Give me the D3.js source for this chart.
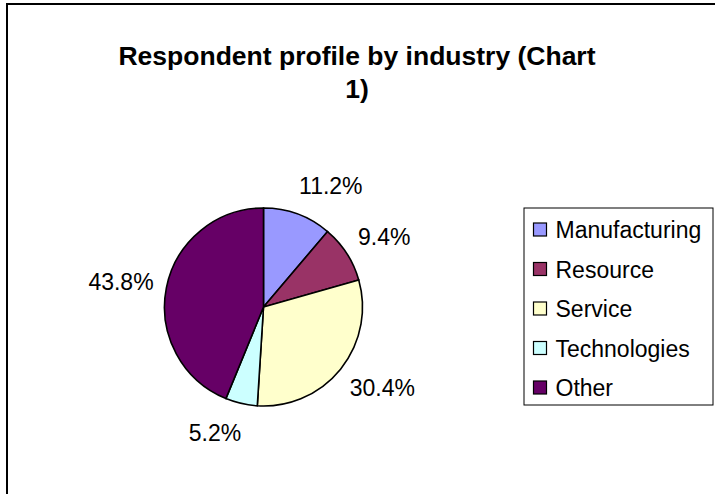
<!DOCTYPE html>
<html>
<head>
<meta charset="utf-8">
<script src="https://cdn.jsdelivr.net/npm/d3@7/dist/d3.min.js"></script>
<style>
  body { margin: 0; background: #fff; }
  text { font-family: "Liberation Sans", Arial, sans-serif; }
</style>
</head>
<body>
<div id="chart"></div>
<script>
// chart data
let categories = ["Manufacturing", "Resource", "Service", "Technologies", "Other"];
let shares = [11.2, 9.4, 30.4, 5.2, 43.8];
let colors = ["#9999FF", "#993366", "#FFFFCC", "#CCFFFF", "#660066"];
let titleLines = ["Respondent profile by industry (Chart", "1)"];

var width = 715,
    height = 494;

var svg = d3.select('#chart').append('svg')
    .attr('width', width)
    .attr('height', height);

// outer frame (runs off right and bottom)
svg.append("rect")
    .attr("x", 7).attr("y", 4)
    .attr("width", 740).attr("height", 520)
    .attr("fill", "white")
    .attr("stroke", "black")
    .attr("stroke-width", 2);

// title
svg.selectAll(".title").data(titleLines).enter()
    .append("text")
    .attr("class", "title")
    .attr("x", 357)
    .attr("y", (d, i) => 65 + i * 33)
    .attr("text-anchor", "middle")
    .attr("font-size", 26.5)
    .attr("font-weight", "bold")
    .text(d => d);

// pie
let cx = 263.5, cy = 307, r = 99;
let data = categories.map((c, i) => ({name: c, value: shares[i], color: colors[i]}));
let pie = d3.pie().value(d => d.value).sort(null);
let arc = d3.arc().innerRadius(0).outerRadius(r);

let g = svg.append("g").attr("transform", "translate(" + cx + "," + cy + ")");
let arcs = pie(data);

g.selectAll(".slice").data(arcs).enter()
    .append("path")
    .attr("class", "slice")
    .attr("d", arc)
    .attr("fill", d => d.data.color)
    .attr("stroke", "black")
    .attr("stroke-width", 1.6);

// labels outside the slices
let labelR = r + 18;
g.selectAll(".pct").data(arcs).enter()
    .append("text")
    .attr("class", "pct")
    .attr("font-size", 23)
    .attr("text-anchor", "middle")
    .attr("dy", "0.35em")
    .text(d => d.data.value.toFixed(1) + "%")
    .each(function(d) {
        let a = (d.startAngle + d.endAngle) / 2;
        let w = this.getComputedTextLength();
        let s = Math.sin(a) < 0 ? -1 : 1;
        let x = Math.sin(a) * labelR + s * 0.85 * w / 2;
        let y = -Math.cos(a) * (labelR + 12);
        d3.select(this).attr("x", x).attr("y", y);
    });

// legend
let lx = 524, ly = 208, lw = 189, lh = 197;
let leg = svg.append("g");
leg.append("rect")
    .attr("x", lx).attr("y", ly)
    .attr("width", lw).attr("height", lh)
    .attr("fill", "white")
    .attr("stroke", "black")
    .attr("stroke-width", 1);

let rowY = d3.scalePoint().domain(categories).range([ly + 22, ly + 180]);

let items = leg.selectAll(".leg-item").data(data).enter()
    .append("g")
    .attr("class", "leg-item")
    .attr("transform", d => "translate(" + (lx + 9.5) + "," + rowY(d.name) + ")");

items.append("rect")
    .attr("x", 0).attr("y", -7)
    .attr("width", 13).attr("height", 13)
    .attr("fill", d => d.color)
    .attr("stroke", "black")
    .attr("stroke-width", 1.2);

items.append("text")
    .attr("x", 22)
    .attr("dy", "0.35em")
    .attr("font-size", 23)
    .text(d => d.name);
</script>
</body>
</html>
